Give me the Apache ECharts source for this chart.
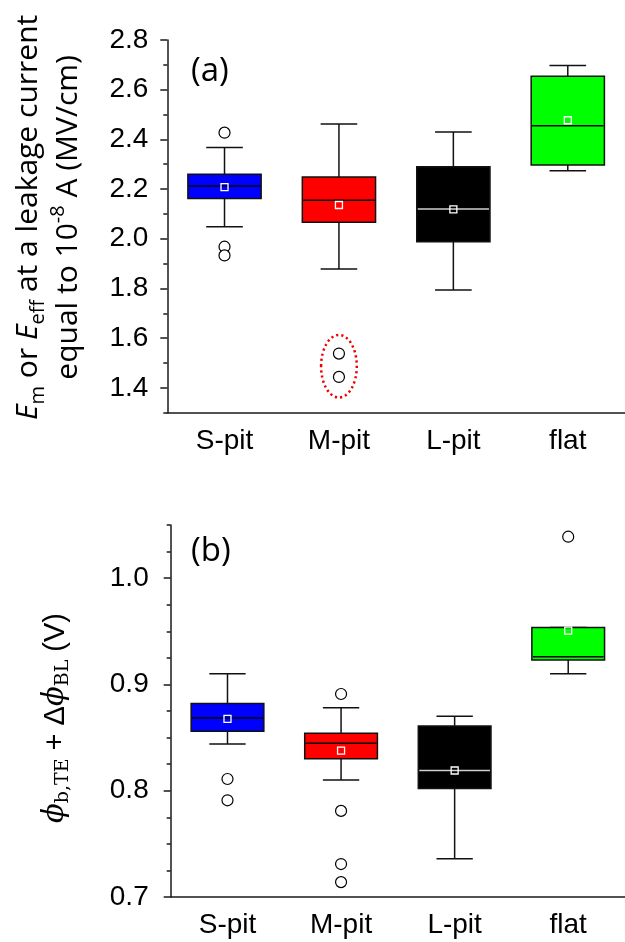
<!DOCTYPE html>
<html>
<head>
<meta charset="utf-8">
<script src="https://cdn.jsdelivr.net/npm/echarts@6/dist/echarts.min.js"></script>
<style>html,body{margin:0;padding:0;background:#fff}#c{width:625px;height:942px}</style>
</head>
<body>
<div id="c"></div>
<script>
// ---- data ----
const categories = ['S-pit', 'M-pit', 'L-pit', 'flat'];
const boxColors = ['#0000ff', '#ff0000', '#000000', '#00ff00'];
const medianColors = ['#000000', '#000000', '#d0d0d0', '#000000'];

// panel (a)
const aLowWhisker  = [2.048, 1.878, 1.794, 2.274];
const aQ1          = [2.162, 2.066, 1.988, 2.297];
const aMedian      = [2.212, 2.155, 2.120, 2.455];
const aQ3          = [2.260, 2.249, 2.290, 2.654];
const aHighWhisker = [2.367, 2.462, 2.430, 2.697];
const aMean        = [2.208, 2.136, 2.118, 2.477];
const aOutlierCat  = [0, 0, 0, 1, 1];
const aOutlierVal  = [2.427, 1.968, 1.933, 1.538, 1.444];
const aEllipse     = [1, 1.361, 1.613]; // category index, bottom, top value
const aTicks       = [1.4, 1.6, 1.8, 2.0, 2.2, 2.4, 2.6, 2.8];

// panel (b)
const bLowWhisker  = [0.844, 0.810, 0.736, 0.910];
const bQ1          = [0.856, 0.830, 0.802, 0.923];
const bMedian      = [0.8685, 0.8446, 0.819, 0.926];
const bQ3          = [0.882, 0.854, 0.861, 0.9535];
const bHighWhisker = [0.910, 0.878, 0.870, 0.9535];
const bMean        = [0.8675, 0.8377, 0.819, 0.9507];
const bOutlierCat  = [0, 0, 1, 1, 1, 1, 3];
const bOutlierVal  = [0.811, 0.791, 0.891, 0.781, 0.731, 0.714, 1.039];
const bTicks       = [0.7, 0.8, 0.9, 1.0];

// ---- build ----
function boxData(lo, q1, med, q3, hi) {
  return categories.map((c, i) => [i, lo[i], q1[i], med[i], q3[i], hi[i]]);
}
function pairs(cats, vals) { return cats.map((c, i) => [c, vals[i]]); }

function renderBox(params, api) {
  const i = api.value(0);
  const lo = api.coord([i, api.value(1)]);
  const q1 = api.coord([i, api.value(2)]);
  const md = api.coord([i, api.value(3)]);
  const q3 = api.coord([i, api.value(4)]);
  const hi = api.coord([i, api.value(5)]);
  const band = api.size([1, 0])[0];
  const bw = band * 0.64, cw = band * 0.32;
  const x = lo[0];
  const ls = { stroke: '#111', lineWidth: 1.5 };
  return {
    type: 'group',
    children: [
      { type: 'line', shape: { x1: x, y1: hi[1], x2: x, y2: q3[1] }, style: ls },
      { type: 'line', shape: { x1: x, y1: q1[1], x2: x, y2: lo[1] }, style: ls },
      { type: 'line', shape: { x1: x - cw / 2, y1: hi[1], x2: x + cw / 2, y2: hi[1] }, style: ls },
      { type: 'line', shape: { x1: x - cw / 2, y1: lo[1], x2: x + cw / 2, y2: lo[1] }, style: ls },
      { type: 'rect', shape: { x: x - bw / 2, y: q3[1], width: bw, height: q1[1] - q3[1] },
        style: { fill: boxColors[i], stroke: '#111', lineWidth: 1.5 } },
      { type: 'line', shape: { x1: x - bw / 2 + 1, y1: md[1], x2: x + bw / 2 - 1, y2: md[1] },
        style: { stroke: medianColors[i], lineWidth: 1.5 } }
    ]
  };
}

function renderEllipse(params, api) {
  const i = api.value(0);
  const b = api.coord([i, api.value(1)]);
  const t = api.coord([i, api.value(2)]);
  const band = api.size([1, 0])[0];
  return {
    type: 'ellipse',
    shape: { cx: b[0], cy: (b[1] + t[1]) / 2, rx: band * 0.156, ry: (b[1] - t[1]) / 2 },
    style: { fill: 'none', stroke: '#ee0000', lineWidth: 2.5, lineDash: [2.2, 3] }
  };
}

const axisCol = '#1a1a1a';
const tickFont = { fontSize: 28, color: '#000', fontFamily: 'Liberation Sans' };

function xAx(grid, margin) {
  return {
    type: 'category', gridIndex: grid, data: categories,
    axisLine: { lineStyle: { color: axisCol, width: 1.5 } },
    axisTick: { alignWithLabel: true, length: 7, lineStyle: { color: axisCol, width: 1.5 } },
    axisLabel: Object.assign({ margin: margin }, tickFont),
    splitLine: { show: false }
  };
}

const aName = '{it|E}{sub|m}{n| or }{it|E}{sub|eff}{n| at a leakage current}\n{n|equal to 10}{sup|-8}{n| A (MV/cm)}';
const bName = '{phi|ϕ}{sub|b,TE}{n| + Δ}{phi|ϕ}{sub|BL}{n| (V)}';

const option = {
  backgroundColor: '#fff',
  animation: false,
  title: [
    { text: '(a)', left: 191, top: 55, padding: 0,
      textStyle: { fontFamily: 'Open Sans', fontSize: 33, fontWeight: 'normal', color: '#000' } },
    { text: '(b)', left: 191, top: 535, padding: 0,
      textStyle: { fontFamily: 'Open Sans', fontSize: 33, fontWeight: 'normal', color: '#000' } }
  ],
  grid: [
    { left: 167.3, top: 40, width: 462.4, height: 372.7 },
    { left: 170.7, top: 525, width: 460.4, height: 372 }
  ],
  xAxis: [xAx(0, 15), xAx(1, 14)],
  yAxis: [
    {
      type: 'value', gridIndex: 0, position: 'left', min: 1.3, max: 2.8, interval: 0.1,
      name: aName, nameLocation: 'middle', nameRotate: 90, nameGap: 79,
      nameTextStyle: {
        lineHeight: 40,
        padding: [0, 0, 0, 18],
        rich: {
          n: { fontFamily: 'Open Sans', fontSize: 30, lineHeight: 40, color: '#000' },
          it: { fontFamily: 'Open Sans', fontStyle: 'italic', fontSize: 30, lineHeight: 40, color: '#000' },
          sub: { fontFamily: 'Open Sans', fontSize: 20, lineHeight: 24, verticalAlign: 'bottom', color: '#000' },
          sup: { fontFamily: 'Open Sans', fontSize: 20, lineHeight: 22, verticalAlign: 'top', color: '#000' }
        }
      },
      axisLine: { show: true, lineStyle: { color: axisCol, width: 1.5 } },
      axisTick: { show: true, length: 7, customValues: aTicks, lineStyle: { color: axisCol, width: 1.5 } },
      axisLabel: Object.assign({ margin: 19, customValues: aTicks, formatter: v => v.toFixed(1) }, tickFont),
      splitLine: { show: false }
    },
    {
      type: 'value', gridIndex: 0, position: 'left', min: 1.3, max: 2.8, interval: 0.1,
      axisLine: { show: false },
      axisTick: { show: true, length: 4, lineStyle: { color: axisCol, width: 1.5 } },
      axisLabel: { show: false }, splitLine: { show: false }
    },
    {
      type: 'value', gridIndex: 1, position: 'left', min: 0.7, max: 1.05, interval: 0.025,
      name: bName, nameLocation: 'middle', nameRotate: 90, nameGap: 98,
      nameTextStyle: {
        lineHeight: 34,
        padding: [0, 14, 0, 0],
        rich: {
          n: { fontFamily: 'Liberation Sans', fontSize: 29, lineHeight: 34, color: '#000' },
          phi: { fontFamily: 'DejaVu Serif', fontStyle: 'italic', fontSize: 29, lineHeight: 34, color: '#000' },
          sub: { fontFamily: 'DejaVu Serif', fontSize: 19, lineHeight: 22, verticalAlign: 'bottom', color: '#000' }
        }
      },
      axisLine: { show: true, lineStyle: { color: axisCol, width: 1.5 } },
      axisTick: { show: true, length: 7, customValues: bTicks, lineStyle: { color: axisCol, width: 1.5 } },
      axisLabel: Object.assign({ margin: 22, customValues: bTicks, formatter: v => v.toFixed(1) }, tickFont),
      splitLine: { show: false }
    },
    {
      type: 'value', gridIndex: 1, position: 'left', min: 0.7, max: 1.05, interval: 0.025,
      axisLine: { show: false },
      axisTick: { show: true, length: 4, lineStyle: { color: axisCol, width: 1.5 } },
      axisLabel: { show: false }, splitLine: { show: false }
    }
  ],
  series: [
    { type: 'custom', xAxisIndex: 0, yAxisIndex: 0, renderItem: renderBox,
      encode: { x: 0, y: [1, 2, 3, 4, 5] },
      data: boxData(aLowWhisker, aQ1, aMedian, aQ3, aHighWhisker), z: 2 },
    { type: 'custom', xAxisIndex: 1, yAxisIndex: 2, renderItem: renderBox,
      encode: { x: 0, y: [1, 2, 3, 4, 5] },
      data: boxData(bLowWhisker, bQ1, bMedian, bQ3, bHighWhisker), z: 2 },
    { type: 'custom', xAxisIndex: 0, yAxisIndex: 0, renderItem: renderEllipse,
      encode: { x: 0, y: [1, 2] }, data: [aEllipse], z: 3 },
    { type: 'scatter', xAxisIndex: 0, yAxisIndex: 0, symbol: 'rect', symbolSize: 7,
      itemStyle: { color: 'none', borderColor: '#fff', borderWidth: 1.3, opacity: 1 },
      data: pairs(categories.map((c, i) => i), aMean), z: 4 },
    { type: 'scatter', xAxisIndex: 1, yAxisIndex: 2, symbol: 'rect', symbolSize: 7,
      itemStyle: { color: 'none', borderColor: '#fff', borderWidth: 1.3, opacity: 1 },
      data: pairs(categories.map((c, i) => i), bMean), z: 4 },
    { type: 'scatter', xAxisIndex: 0, yAxisIndex: 0, symbol: 'circle', symbolSize: 11,
      itemStyle: { color: '#fff', borderColor: '#000', borderWidth: 1.2, opacity: 1 },
      data: pairs(aOutlierCat, aOutlierVal), z: 4 },
    { type: 'scatter', xAxisIndex: 1, yAxisIndex: 2, symbol: 'circle', symbolSize: 11,
      itemStyle: { color: '#fff', borderColor: '#000', borderWidth: 1.2, opacity: 1 },
      data: pairs(bOutlierCat, bOutlierVal), z: 4 }
  ]
};

const chart = echarts.init(document.getElementById('c'), null, { renderer: 'canvas' });
chart.setOption(option);
</script>
</body>
</html>
